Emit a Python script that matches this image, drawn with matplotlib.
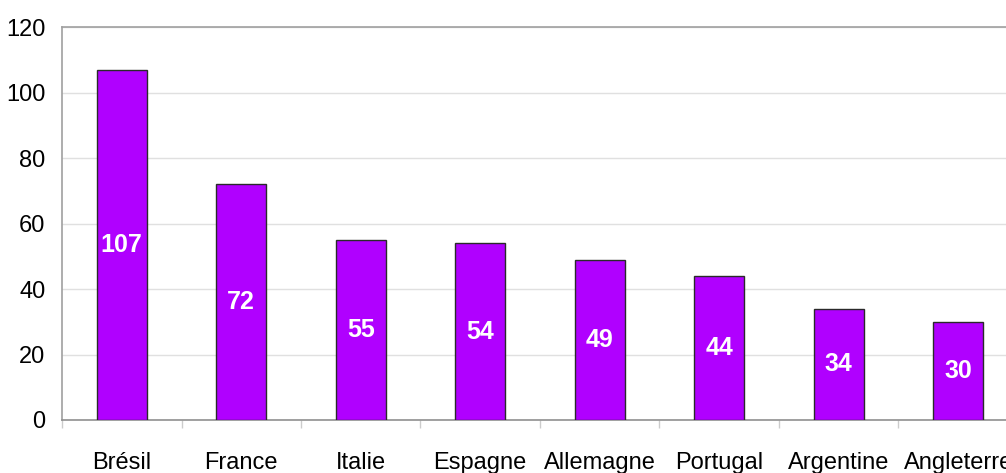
import matplotlib
matplotlib.use("Agg")
import matplotlib.pyplot as plt
import numpy as np

categories = ["Brésil", "France", "Italie", "Espagne", "Allemagne", "Portugal", "Argentine", "Angleterre"]
values = [107, 72, 55, 54, 49, 44, 34, 30]
yticks = [0, 20, 40, 60, 80, 100, 120]

plt.rcParams['font.family'] = ['Liberation Sans', 'DejaVu Sans']

W, H = 1006, 473
fig = plt.figure(figsize=(W / 100, H / 100), dpi=100)
left, right, top, bottom = 62, 1018, 27, 420
ax = fig.add_axes([left / W, 1 - bottom / H, (right - left) / W, (bottom - top) / H])

x = np.arange(len(categories))
bars = ax.bar(x, values, width=0.42, color="#B000FF", edgecolor="#2a2a2a", linewidth=1.0, zorder=3)
for xi, v in zip(x, values):
    ax.text(xi, v / 2, str(v), ha="center", va="center", color="white",
            fontsize=18, fontweight="bold",
            family=['Liberation Sans Narrow', 'Liberation Sans', 'DejaVu Sans'], zorder=4)

ax.set_xlim(-0.5, len(categories) - 0.5)
ax.set_ylim(0, 120)
ax.set_yticks(yticks)
ax.set_yticklabels([str(t) for t in yticks], fontsize=17)
ax.tick_params(axis="y", length=0, pad=12)
ax.set_xticks(x)
ax.set_xticklabels(categories, fontsize=17)
ax.tick_params(axis="x", which="major", length=0, pad=23)
ax.set_xticks(np.arange(len(categories) + 1) - 0.5, minor=True)
ax.tick_params(axis="x", which="minor", length=6, color="#cccccc", width=1)
ax.grid(axis="y", color="#e0e0e0", linewidth=1, zorder=0)
for s in ["top", "left"]:
    ax.spines[s].set_color("#a0a0a0")
    ax.spines[s].set_linewidth(1.2)
ax.spines["bottom"].set_color("#909090")
ax.spines["bottom"].set_linewidth(1.2)
ax.spines["right"].set_visible(False)

fig.savefig("out.png", dpi=100)
